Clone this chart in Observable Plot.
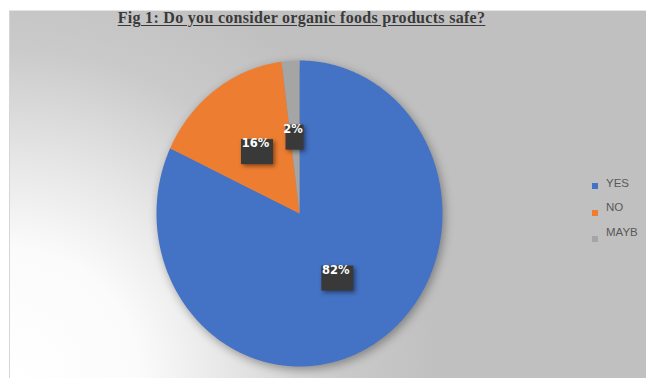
<!DOCTYPE html>
<html>
<head>
<meta charset="utf-8">
<script src="https://cdn.jsdelivr.net/npm/d3@7"></script>
<script src="https://cdn.jsdelivr.net/npm/@observablehq/plot@0.6"></script>
<style>
  html, body { margin: 0; padding: 0; background: #fff; }
  #wrap { position: relative; width: 646px; height: 378px; overflow: hidden; background: #fff; }
  #bg { position: absolute; left: 9px; top: 10px; right: 0; bottom: 0;
        border-left: 1px solid #d6d6d6; border-top: 1px solid #e4e4e4;
        background: radial-gradient(circle at 0px 368px, #ffffff 0px, #fbfbfb 130px, #e6e6e6 220px, #cacaca 330px, #c0c0c0 430px); }
  #title { position: absolute; left: 0; width: 603px; top: 9px; text-align: center; white-space: nowrap;
           font-family: "Liberation Serif", serif; font-weight: bold; font-size: 16px; color: #3a3a3a;
           letter-spacing: 0.3px;
           text-decoration: underline; text-underline-offset: 2px; }
  #chart { position: absolute; left: 0; top: 0; }
  #chart svg g[aria-label="line"] { filter: drop-shadow(2px 3px 5px rgba(0,0,0,0.35)); }
  #chart svg g[aria-label="rect"] { filter: drop-shadow(2px 2px 2px rgba(0,0,0,0.45)); }
  .lg-sw { position: absolute; width: 6px; height: 6px; }
  .lg-tx { position: absolute; font-family: "Liberation Sans", sans-serif; font-size: 11.5px; color: #595959; line-height: 12px; }
</style>
</head>
<body>
<div id="wrap">
  <div id="bg"></div>
  <div id="chart"></div>
  <div id="title"></div>
  <div id="legend"></div>
</div>
<script>
const titleText = "Fig 1: Do you consider organic foods products safe?";
const categories = ["YES", "NO", "MAYB"];
const values = [82, 16, 2];
const labels = ["82%", "16%", "2%"];
const colors = ["#4472C4", "#ED7D31", "#A5A5A5"];

document.getElementById("title").textContent = titleText;

// pie geometry (angles from data)
const arcs = d3.pie().sort(null).value(d => d)(values);
const slicePts = [];
arcs.forEach((a, i) => {
  const key = categories[i];
  slicePts.push({key, x: 0, y: 0});
  const n = Math.max(4, Math.ceil((a.endAngle - a.startAngle) / (Math.PI / 360)));
  for (let k = 0; k <= n; k++) {
    const t = a.startAngle + (a.endAngle - a.startAngle) * k / n;
    slicePts.push({key, x: Math.sin(t), y: Math.cos(t)});
  }
  slicePts.push({key, x: 0, y: 0});
});

// layout
const W = 646, H = 378;
const mL = 156, mR = 204, mT = 60, mB = 12;
const kx = (W - mL - mR) / 2, ky = (H - mT - mB) / 2;

const labelData = arcs.map((a, i) => {
  const mid = (a.startAngle + a.endAngle) / 2;
  const ax = 0.5 * Math.sin(mid), ay = 0.5 * Math.cos(mid);
  const hw = labels[i].length >= 3 ? 16 : 9;
  return {
    label: labels[i], ax, ay,
    x1: ax - hw / kx, x2: ax + hw / kx,
    y1: ay + 12 / ky, y2: ay - 13 / ky
  };
});

const plot = Plot.plot({
  width: W, height: H,
  marginLeft: mL, marginRight: mR, marginTop: mT, marginBottom: mB,
  style: {background: "transparent", overflow: "visible"},
  x: {domain: [-1, 1], axis: null},
  y: {domain: [-1, 1], axis: null},
  color: {domain: categories, range: colors},
  marks: [
    Plot.line(slicePts, {x: "x", y: "y", z: "key", fill: "key", stroke: "none", curve: "linear"}),
    Plot.rect(labelData, {x1: "x1", x2: "x2", y1: "y1", y2: "y2", fill: "#393939"}),
    Plot.text(labelData, {x: "ax", y: "ay", text: "label", dx: -2, dy: -8, fill: "white",
      fontWeight: "bold", fontSize: 11.5, fontFamily: "DejaVu Sans, sans-serif"})
  ]
});
document.getElementById("chart").appendChild(plot);

// legend
const legend = document.getElementById("legend");
const swTop = [183, 210, 236];
const txTop = [177, 201, 226];
categories.forEach((c, i) => {
  const sw = document.createElement("div");
  sw.className = "lg-sw";
  sw.style.left = "592px"; sw.style.top = swTop[i] + "px"; sw.style.background = colors[i];
  legend.appendChild(sw);
  const tx = document.createElement("div");
  tx.className = "lg-tx";
  tx.style.left = "606px"; tx.style.top = txTop[i] + "px";
  tx.textContent = c;
  legend.appendChild(tx);
});
</script>
</body>
</html>
